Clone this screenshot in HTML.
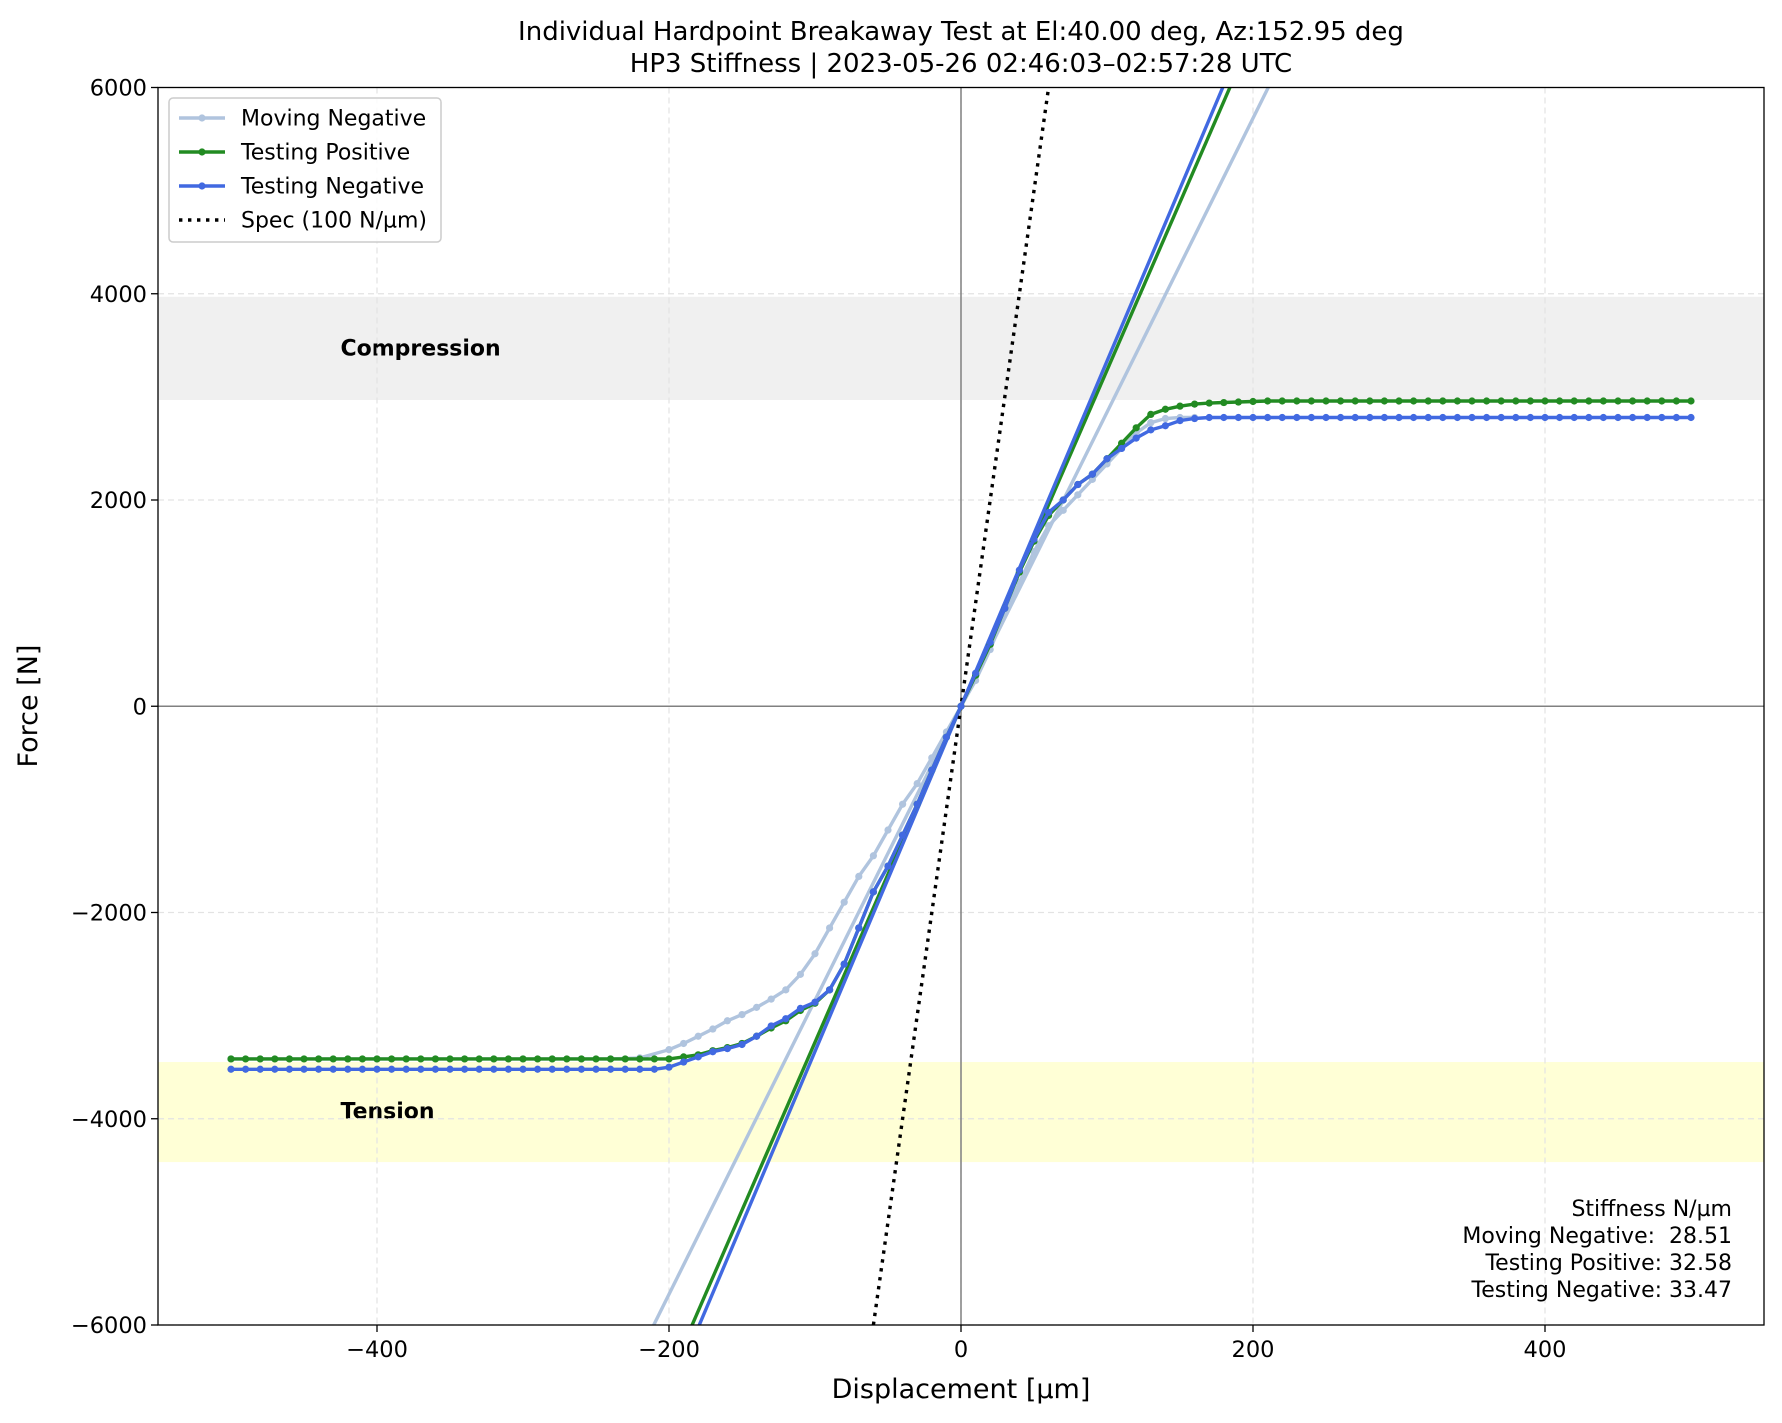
<!DOCTYPE html>
<html><head><meta charset="utf-8"><style>
html,body{margin:0;padding:0;background:#fff;overflow:hidden;width:1782px;height:1423px}
svg{display:block;font-family:"DejaVu Sans","Liberation Sans",sans-serif}
</style></head><body>
<svg id="chart" width="1782" height="1423" viewBox="0 0 1782 1423" xmlns="http://www.w3.org/2000/svg">
<text x="961" y="40" font-size="26" text-anchor="middle">Individual Hardpoint Breakaway Test at El:40.00 deg, Az:152.95 deg</text>
<text x="961" y="72" font-size="26" text-anchor="middle">HP3 Stiffness | 2023-05-26 02:46:03–02:57:28 UTC</text>
<g id="bands"></g><g id="grid"></g><g id="plot"></g><g id="axes"></g>
</svg>
<script>
const xs = [];
for (let v = -500; v <= 500; v += 10) xs.push(v);
const movingNegX = [-500,-480,-460,-440,-420,-400,-380,-360,-340,-320,-300,-280,-260,-240,-220,-200,-190,-180,-170,-160,-150,-140,-130,-120,-110,-100,-90,-80,-70,-60,-50,-40,-30,-20,-10,0,10,20,30,40,50,60,70,80,90,100,110,120,130,140,150,160];
const movingNegY = [-3420,-3420,-3420,-3420,-3420,-3420,-3420,-3420,-3420,-3420,-3420,-3420,-3420,-3420,-3410,-3330,-3270,-3200,-3130,-3050,-2990,-2920,-2840,-2750,-2600,-2400,-2150,-1900,-1650,-1450,-1200,-950,-750,-500,-250,0,250,550,900,1200,1500,1750,1900,2050,2200,2350,2500,2650,2750,2790,2800,2800];
const testPosY = [
-3420,-3420,-3420,-3420,-3420,-3420,-3420,-3420,-3420,-3420,
-3420,-3420,-3420,-3420,-3420,-3420,-3420,-3420,-3420,-3420,
-3420,-3420,-3420,-3420,-3420,-3420,-3420,-3420,-3420,-3420,
-3420,-3400,-3380,-3340,-3310,-3270,-3200,-3120,-3050,-2950,
-2880,-2750,-2500,-2150,-1800,-1550,-1250,-950,-620,-300,
0,
300,600,950,1300,1600,1850,2000,2150,2250,2400,
2550,2700,2830,2880,2910,2930,2940,2945,2950,2955,
2960,2960,2960,2960,2960,2960,2960,2960,2960,2960,
2960,2960,2960,2960,2960,2960,2960,2960,2960,2960,
2960,2960,2960,2960,2960,2960,2960,2960,2960,2960];
const testNegY = [
-3520,-3520,-3520,-3520,-3520,-3520,-3520,-3520,-3520,-3520,
-3520,-3520,-3520,-3520,-3520,-3520,-3520,-3520,-3520,-3520,
-3520,-3520,-3520,-3520,-3520,-3520,-3520,-3520,-3520,-3520,
-3500,-3450,-3400,-3350,-3320,-3280,-3200,-3100,-3030,-2930,
-2870,-2750,-2500,-2150,-1800,-1550,-1250,-950,-620,-300,
0,
320,620,950,1320,1620,1880,2000,2150,2250,2400,
2500,2600,2680,2720,2770,2790,2800,2800,2800,2800,
2800,2800,2800,2800,2800,2800,2800,2800,2800,2800,
2800,2800,2800,2800,2800,2800,2800,2800,2800,2800,
2800,2800,2800,2800,2800,2800,2800,2800,2800,2800];
const stiffness = [28.51, 32.58, 33.47];
const seriesNames = ["Moving Negative","Testing Positive","Testing Negative"];
const specK = 100;
const xTicks = [-400,-200,0,200,400];
const yTicks = [-6000,-4000,-2000,0,2000,4000,6000];

const L=158,R=1764,T=87.5,B=1325;
const X = v => L + (v + 550) / 1100 * (R - L);
const Y = v => T + (6000 - v) / 12000 * (B - T);
const NS="http://www.w3.org/2000/svg";
function mk(tag, parent, attrs){const e=document.createElementNS(NS,tag);for(const k in attrs)e.setAttribute(k,attrs[k]);parent.appendChild(e);return e;}
const svg=document.getElementById('chart');
const defs=mk('defs',svg,{});
const cp=mk('clipPath',defs,{id:'clip'});
mk('rect',cp,{x:L,y:T,width:R-L,height:B-T});

const bands=document.getElementById('bands');
let b=mk('rect',bands,{x:L,y:Y(3970),width:R-L,height:Y(2970)-Y(3970),fill:'#f0f0f0'});


b=mk('rect',bands,{x:L,y:Y(-3450),width:R-L,height:Y(-4420)-Y(-3450),fill:'#ffffd6'});


let t=mk('text',bands,{x:X(-425),y:Y(3480)+8,'font-size':'22','font-weight':'bold'});t.textContent='Compression';


t=mk('text',bands,{x:X(-425),y:Y(-3920)+8,'font-size':'22','font-weight':'bold'});t.textContent='Tension';



const grid=document.getElementById('grid');
xTicks.forEach(v=>{const g=mk('line',grid,{x1:X(v),x2:X(v),y1:T,y2:B,stroke:'#e3e3e3','stroke-dasharray':'6,4','stroke-width':1.2});

});
yTicks.forEach(v=>{const g=mk('line',grid,{x1:L,x2:R,y1:Y(v),y2:Y(v),stroke:'#e3e3e3','stroke-dasharray':'6,4','stroke-width':1.2});

});
let z=mk('line',grid,{x1:X(0),x2:X(0),y1:T,y2:B,stroke:'#808080','stroke-width':1.5});


z=mk('line',grid,{x1:L,x2:R,y1:Y(0),y2:Y(0),stroke:'#808080','stroke-width':1.5});



const plot=document.getElementById('plot');
plot.setAttribute('clip-path','url(#clip)');
const colors=['#b0c4de','#228b22','#4169e1'];
const seriesX=[movingNegX,xs,xs];
const seriesY=[movingNegY,testPosY,testNegY];
stiffness.forEach((k,i)=>{const l=mk('line',plot,{x1:X(-550),y1:Y(-550*k),x2:X(550),y2:Y(550*k),stroke:colors[i],'stroke-width':3.4});

});
let sp=mk('line',plot,{x1:X(-60),y1:Y(-60*specK),x2:X(60),y2:Y(60*specK),stroke:'#000','stroke-width':3.4,'stroke-dasharray':'3.4,5.6'});


seriesY.forEach((ys,i)=>{
  const g=mk('g',plot,{});
  
  
  const d=ys.map((v,j)=>(j?'L':'M')+X(seriesX[i][j]).toFixed(1)+','+Y(v).toFixed(1)).join(' ');
  mk('path',g,{d:d,fill:'none',stroke:colors[i],'stroke-width':3.4});
  ys.forEach((v,j)=>{const c=mk('circle',g,{cx:X(seriesX[i][j]),cy:Y(v),r:3.6,fill:colors[i]});
  
  });
});

const axes=document.getElementById('axes');
let fr=mk('rect',axes,{x:L,y:T,width:R-L,height:B-T,fill:'none',stroke:'#000','stroke-width':1.3});


xTicks.forEach(v=>{mk('line',axes,{x1:X(v),x2:X(v),y1:B,y2:B+7,stroke:'#000','stroke-width':1.3});
const tx=mk('text',axes,{x:X(v),y:B+32,'font-size':'22.5','text-anchor':'middle'});tx.textContent=(v<0?'\u2212'+(-v):v);

});
yTicks.forEach(v=>{mk('line',axes,{x1:L-7,x2:L,y1:Y(v),y2:Y(v),stroke:'#000','stroke-width':1.3});
const tx=mk('text',axes,{x:L-11,y:Y(v)+8,'font-size':'22.5','text-anchor':'end'});tx.textContent=(v<0?'\u2212'+(-v):v);

});
let at=mk('text',axes,{x:961,y:1398,'font-size':'27','text-anchor':'middle'});at.textContent='Displacement [µm]';


at=mk('text',axes,{x:37,y:706,'font-size':'27','text-anchor':'middle',transform:'rotate(-90 37 706)'});at.textContent='Force [N]';



const lg=mk('g',axes,{});


mk('rect',lg,{x:169,y:98,width:272,height:144,rx:4,fill:'#fff',stroke:'#ccc','stroke-width':1.5,'fill-opacity':0.85});
const lnames=[...seriesNames,'Spec (100 N/µm)'];
lnames.forEach((n,i)=>{const yy=118+i*34;
  const e=mk('g',lg,{});
  
  
  if(i<3){mk('line',e,{x1:179,x2:225,y1:yy,y2:yy,stroke:colors[i],'stroke-width':3.4});mk('circle',e,{cx:202,cy:yy,r:3.6,fill:colors[i]});}
  else mk('line',e,{x1:179,x2:225,y1:yy,y2:yy,stroke:'#000','stroke-width':3.4,'stroke-dasharray':'3.4,5.6'});
  const tx=mk('text',e,{x:241,y:yy+7.5,'font-size':'22'});tx.textContent=n;});

const sb=mk('g',axes,{'font-size':'22','text-anchor':'end'});


const lines=['Stiffness N/µm','Moving Negative:  '+stiffness[0].toFixed(2),'Testing Positive: '+stiffness[1].toFixed(2),'Testing Negative: '+stiffness[2].toFixed(2)];
lines.forEach((s,i)=>{const tx=mk('text',sb,{x:1732,y:1216+i*27});tx.textContent=s;tx.style.whiteSpace='pre';});
</script>
</body></html>
